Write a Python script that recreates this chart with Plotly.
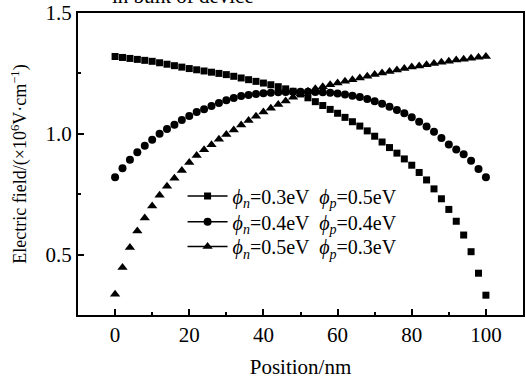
import plotly.graph_objects as go

position = [0, 2, 4, 6, 8, 10, 12, 14, 16, 18, 20, 22, 24, 26, 28, 30, 32, 34, 36, 38,
            40, 42, 44, 46, 48, 50, 52, 54, 56, 58, 60, 62, 64, 66, 68, 70, 72, 74, 76, 78,
            80, 82, 84, 86, 88, 90, 92, 94, 96, 98, 100]

# phi_n=0.3eV, phi_p=0.5eV (squares)
field_sq = [1.320, 1.316, 1.312, 1.308, 1.304, 1.300, 1.294, 1.288, 1.282, 1.276,
            1.270, 1.265, 1.260, 1.255, 1.250, 1.245, 1.238, 1.231, 1.224, 1.217,
            1.210, 1.203, 1.195, 1.186, 1.176, 1.165, 1.149, 1.133, 1.117, 1.101,
            1.085, 1.068, 1.050, 1.032, 1.012, 0.990, 0.966, 0.943, 0.920, 0.896,
            0.870, 0.840, 0.809, 0.772, 0.731, 0.687, 0.638, 0.581, 0.512, 0.423, 0.332]

# phi_n=0.4eV, phi_p=0.4eV (circles)
field_ci = [0.820, 0.857, 0.893, 0.924, 0.951, 0.975, 1.000, 1.020, 1.037, 1.057,
            1.074, 1.090, 1.102, 1.115, 1.127, 1.139, 1.148, 1.156, 1.161, 1.165,
            1.168, 1.170, 1.172, 1.173, 1.174, 1.174, 1.174, 1.173, 1.172, 1.170,
            1.167, 1.163, 1.158, 1.152, 1.144, 1.135, 1.124, 1.112, 1.099, 1.085,
            1.068, 1.050, 1.030, 1.008, 0.983, 0.956, 0.935, 0.915, 0.888, 0.854, 0.820]

# phi_n=0.5eV, phi_p=0.3eV (triangles)
field_tr = [0.336, 0.447, 0.529, 0.598, 0.652, 0.701, 0.746, 0.783, 0.816, 0.848,
            0.881, 0.910, 0.934, 0.955, 0.977, 0.997, 1.016, 1.036, 1.055, 1.073,
            1.090, 1.106, 1.121, 1.136, 1.151, 1.165, 1.176, 1.186, 1.195, 1.203,
            1.210, 1.217, 1.224, 1.231, 1.238, 1.245, 1.252, 1.258, 1.264, 1.270,
            1.276, 1.281, 1.286, 1.291, 1.296, 1.300, 1.305, 1.309, 1.313, 1.317, 1.320]

series_names = ["<i>ϕ</i><sub><i>n</i></sub>=0.3eV  <i>ϕ</i><sub><i>p</i></sub>=0.5eV",
                "<i>ϕ</i><sub><i>n</i></sub>=0.4eV  <i>ϕ</i><sub><i>p</i></sub>=0.4eV",
                "<i>ϕ</i><sub><i>n</i></sub>=0.5eV  <i>ϕ</i><sub><i>p</i></sub>=0.3eV"]
symbols = ["square", "circle", "triangle-up"]
sizes = [7, 8, 9]
legend_ids = ["legend", "legend2", "legend3"]
legend_tops = [0.459, 0.373, 0.291]
FONT = "Liberation Serif"

fig = go.Figure()
for ys, name, sym, sz, lid in zip([field_sq, field_ci, field_tr], series_names, symbols,
                                  sizes, legend_ids):
    fig.add_trace(go.Scatter(x=position, y=ys, mode="markers",
                             marker=dict(symbol=sym, size=sz, color="black"),
                             showlegend=False, cliponaxis=False))
    # legend entry with line + symbol
    fig.add_trace(go.Scatter(x=[None], y=[None], mode="lines+markers", name=name,
                             legend=lid,
                             line=dict(color="black", width=1.5),
                             marker=dict(symbol=sym, size=sz, color="black")))

legend_style = dict(x=0.235, xanchor="left", yanchor="top",
                    bgcolor="rgba(0,0,0,0)", font=dict(family=FONT, size=20),
                    itemwidth=40)

fig.update_layout(
    width=526, height=379,
    margin=dict(l=78, r=1, t=11, b=64),
    plot_bgcolor="white", paper_bgcolor="white",
    font=dict(family=FONT, size=21, color="black"),
    annotations=[dict(text="in bulk of device", xref="paper", yref="paper",
                      x=0.0716, y=1, xanchor="left", yanchor="bottom", yshift=3,
                      showarrow=False, font=dict(family=FONT, size=21))],
)
for lid, top in zip(legend_ids, legend_tops):
    fig.update_layout({lid: dict(legend_style, y=top)})

fig.update_xaxes(range=[-10, 110], tickvals=[0, 20, 40, 60, 80, 100],
                 ticks="inside", ticklen=6, tickwidth=2, tickcolor="black",
                 minor=dict(ticks="inside", ticklen=3, tickwidth=2, tickcolor="black",
                            tickvals=[-10, 10, 30, 50, 70, 90, 110]),
                 showline=True, linewidth=2, linecolor="black", mirror=True,
                 showgrid=False, zeroline=False,
                 title=dict(text="Position/nm", standoff=14, font=dict(size=21)),
                 tickfont=dict(size=21))
fig.update_yaxes(range=[0.25, 1.5], tickvals=[0.5, 1.0, 1.5], ticktext=["0.5", "1.0", "1.5"],
                 ticks="inside", ticklen=6, tickwidth=2, tickcolor="black",
                 minor=dict(ticks="inside", ticklen=3, tickwidth=2, tickcolor="black",
                            tickvals=[0.75, 1.25]),
                 showline=True, linewidth=2, linecolor="black", mirror=True,
                 showgrid=False, zeroline=False, ticklabeloverflow="allow",
                 title=dict(text="Electric field/(×10<sup>6</sup>V·cm<sup>−1</sup>)",
                            standoff=14, font=dict(size=18)),
                 tickfont=dict(size=21))

fig.write_html("out.html")
